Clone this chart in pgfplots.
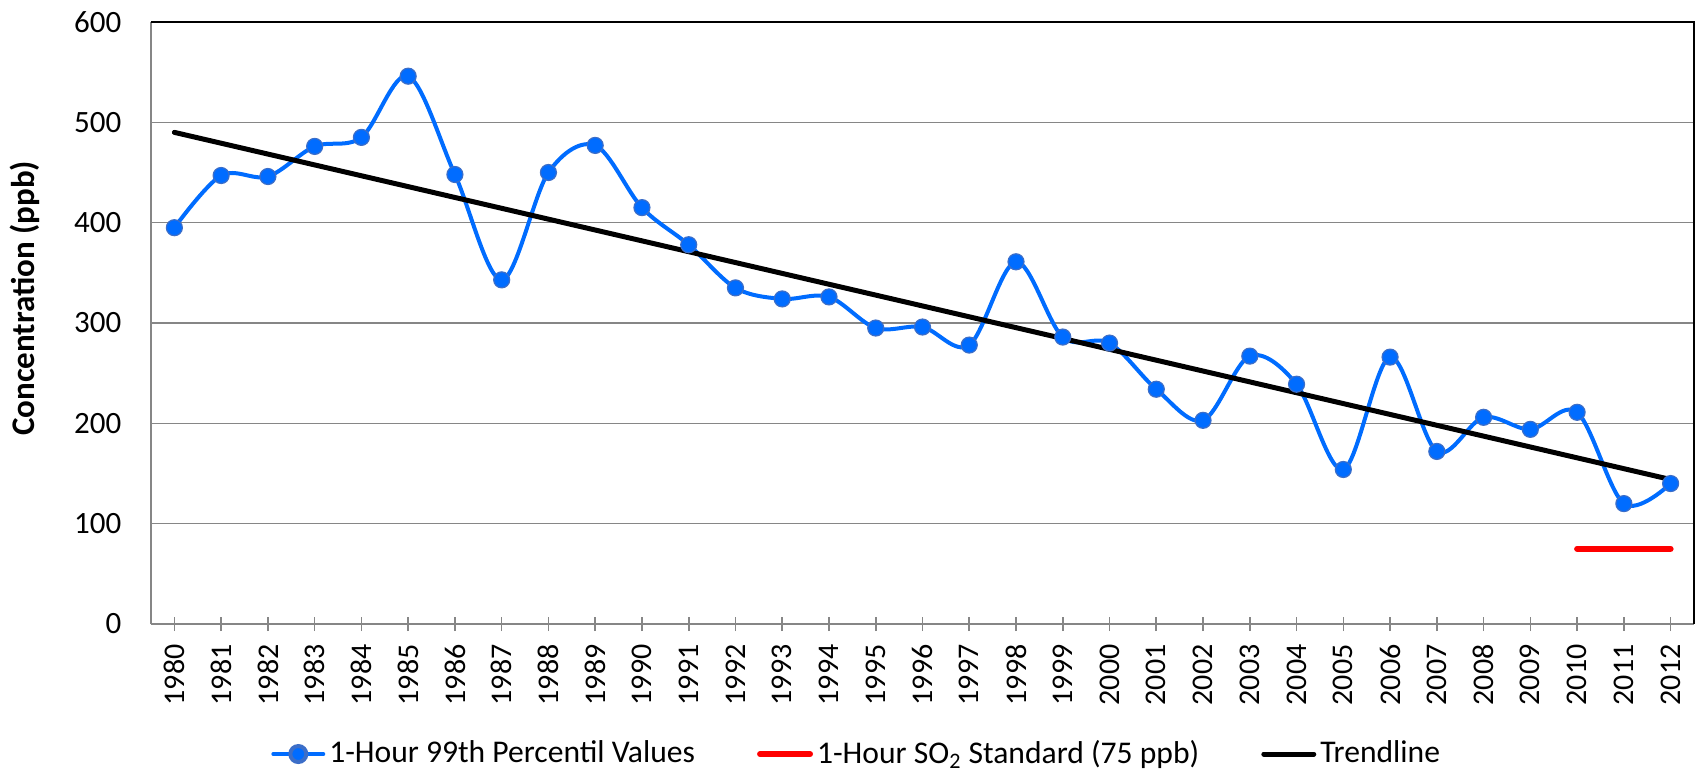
\documentclass[border=0pt]{standalone}
\usepackage{pgfplots}
\pgfplotsset{compat=1.18}
\usepackage{fontspec}
\setmainfont{Carlito}
\definecolor{sblue}{RGB}{0,108,255}
\definecolor{sedge}{RGB}{60,110,200}
\definecolor{gridgray}{RGB}{134,134,134}
\begin{document}
\fontsize{15.5bp}{18bp}\selectfont
\begin{tikzpicture}
\path[use as bounding box] (-75.5bp,-75bp) rectangle (773.5bp,312bp);
\begin{axis}[
  at={(0,0)}, anchor=south west,
  scale only axis, width=771.5bp, height=301bp,
  xmin=-0.5, xmax=32.5, ymin=0, ymax=600,
  xtick={0,...,32},
  xticklabels={1980,1981,1982,1983,1984,1985,1986,1987,1988,1989,1990,1991,1992,1993,1994,1995,1996,1997,1998,1999,2000,2001,2002,2003,2004,2005,2006,2007,2008,2009,2010,2011,2012},
  ytick={0,100,...,600},
  ymajorgrids, grid style={gridgray, line width=0.6bp},
  axis line style={gridgray, line width=0.8bp},
  axis x line*=bottom, axis y line*=left,
  y axis line style={-}, x axis line style={-},
  x tick style={gridgray, line width=0.8bp}, major tick length=7bp,
  xtick align=center,
  y tick style={draw=none},
  /pgf/number format/assume math mode=true,
  tick label style={font=\fontsize{15.5bp}{18bp}\selectfont, black},
  xticklabel style={rotate=90, anchor=east, inner xsep=6.5bp, font=\fontsize{15bp}{18bp}\selectfont},
  yticklabel style={anchor=east, xshift=-9.5bp},
  ylabel={\bfseries Concentration (ppb)},
  every axis y label/.style={at={(axis description cs:-0.0817,0.541)}, rotate=90, anchor=center, font=\fontsize{16.5bp}{19bp}\selectfont},
  legend columns=3,
  legend style={at={(axis description cs:0.458,-0.216)}, anchor=center, draw=none, fill=none,
    font=\fontsize{15.8bp}{18bp}\selectfont,
    /tikz/every even column/.append style={column sep=29bp},
    inner sep=0pt},
  legend image code/.code={\draw[#1] (0bp,0bp) -- (25bp,0bp);},
  every axis plot/.append style={line cap=round},
  after end axis/.code={\draw[black, line width=0.8bp] (rel axis cs:0,1) -- (rel axis cs:1,1) -- (rel axis cs:1,0);},
]
\addplot[sblue, line width=2bp, smooth, tension=0.55, mark=*, mark size=4bp,
  mark options={fill=sblue, draw=sedge, line width=0.6bp},
  legend image code/.code={\draw[sblue, line width=2bp] (0bp,0bp) -- (25bp,0bp); \fill[sblue, draw=sedge] (12.5bp,0bp) circle (4bp);}]
coordinates {
(0,395) (1,447) (2,446) (3,476) (4,485) (5,546) (6,448) (7,343) (8,450) (9,477)
(10,415) (11,378) (12,335) (13,324) (14,326) (15,295) (16,296) (17,278) (18,361) (19,286)
(20,280) (21,234) (22,203) (23,267) (24,239) (25,154) (26,266) (27,172) (28,206) (29,194)
(30,211) (31,120) (32,140)};
\addlegendentry{1-Hour 99th Percentil Values}
\addplot[red, line width=3bp] coordinates {(30,75) (32,75)};
\addlegendentry{1-Hour SO\textsubscript{2} Standard (75 ppb)}
\addplot[black, line width=2.5bp] coordinates {(0,490) (32,144)};
\addlegendentry{Trendline}
\end{axis}
\end{tikzpicture}
\end{document}
